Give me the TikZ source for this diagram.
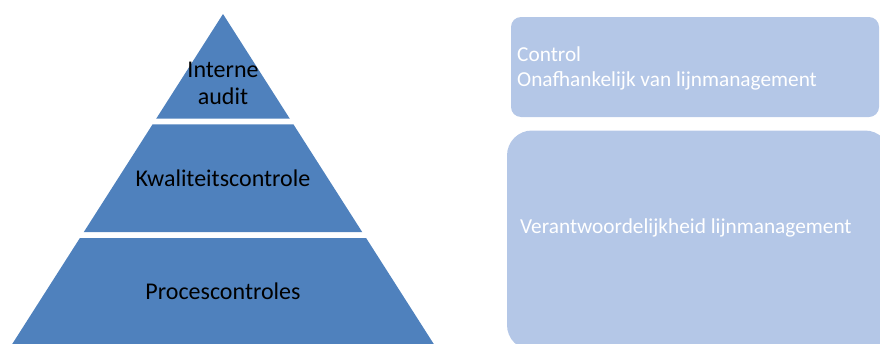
\documentclass[tikz,border=0pt]{standalone}
\usepackage{fontspec}
\setmainfont{Carlito}
\definecolor{pyrblue}{HTML}{4F81BD}
\definecolor{boxblue}{HTML}{B4C7E7}
\begin{document}
\begin{tikzpicture}[x=1pt,y=-1pt,
  layer/.style={fill=pyrblue,draw=none},
  pyrtext/.style={inner sep=0pt,anchor=base,font=\fontsize{24}{26}\selectfont,text=black},
  panel/.style={fill=boxblue,draw=none},
  paneltext/.style={inner sep=0pt,anchor=base west,font=\fontsize{21.3}{25}\selectfont,text=white}]
\useasboundingbox (0,0) rectangle (880,343);
% pyramid layers (apex (223,14), base (13,343)-(433,343))
\coordinate (apex) at (223,14);
\path[layer] (apex) -- (289.8,118.7) -- (156.2,118.7) -- cycle;
\path[layer] (152.6,124.3) -- (293.4,124.3) -- (362.3,232.2) -- (83.7,232.2) -- cycle;
\path[layer] (79.9,238) -- (366.1,238) -- (436,347.5) -- (10,347.5) -- cycle;
\node[pyrtext] (t1a) at (223,77.3) {Interne};
\node[pyrtext] (t1b) at (223,104) {audit};
\node[pyrtext] (t2) at (223,186) {Kwaliteitscontrole};
\node[pyrtext] (t3) at (223,299) {Procescontroles};
% right panels
\path[panel,rounded corners=10pt] (511,17) rectangle (879,117);
\path[panel,rounded corners=25pt] (507,130.5) rectangle (890,350);
\node[paneltext] (p1a) at (517,61) {Control};
\node[paneltext] (p1b) at (517,86) {Onafhankelijk van lijnmanagement};
\node[paneltext] (p2) at (520,233) {Verantwoordelijkheid lijnmanagement};
\end{tikzpicture}
\end{document}
